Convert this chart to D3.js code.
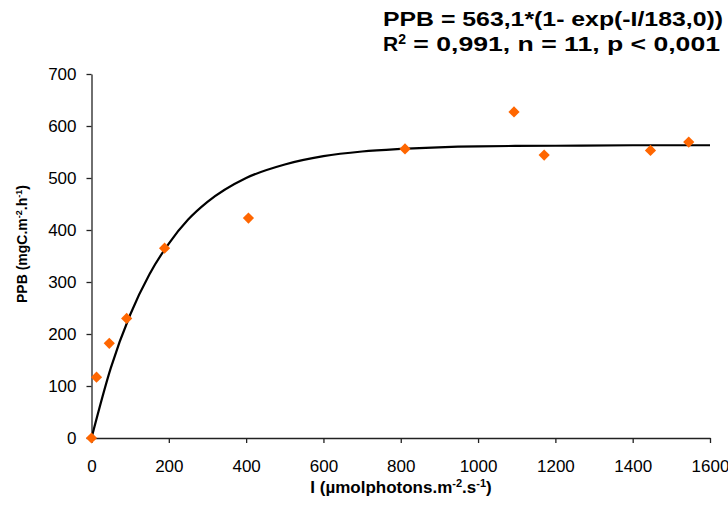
<!DOCTYPE html>
<html>
<head>
<meta charset="utf-8">
<script src="https://cdn.jsdelivr.net/npm/d3@7"></script>
<style>
  body { margin: 0; background: #fff; }
  text { font-family: Arial, 'Liberation Sans', sans-serif; }
</style>
</head>
<body>
<script>
// measured points
var lightI = [0, 13, 46, 91, 189, 406, 811, 1093, 1171, 1446, 1545];
var ppb = [0, 117, 182, 230, 365, 423, 556, 627, 544, 553, 569];

// fitted curve
var curveI = [0, 50, 100, 150, 200, 250, 300, 400, 500, 600, 700, 800, 1000, 1200, 1400, 1600];
var curvePPB = [0, 135, 237, 315, 374, 420, 454, 500, 526, 542, 551, 556, 561, 562, 563, 563];

var xTicks = [0, 200, 400, 600, 800, 1000, 1200, 1400, 1600];
var yTicks = [0, 100, 200, 300, 400, 500, 600, 700];

var width = 728, height = 505;

var svg = d3.select('body').append('svg')
  .attr('width', width)
  .attr('height', height);

var x = d3.scaleLinear().domain([0, 1600]).range([91.5, 710]);
var y = d3.scaleLinear().domain([0, 700]).range([438, 74]);

var xAxis = svg.append('g')
  .attr('transform', 'translate(0,438)')
  .call(d3.axisBottom(x).tickValues(xTicks).tickFormat(d3.format('d'))
    .tickSize(5).tickPadding(17).tickSizeOuter(0));

var yAxis = svg.append('g')
  .attr('transform', 'translate(91.5,0)')
  .call(d3.axisLeft(y).tickValues(yTicks).tickFormat(d3.format('d'))
    .tickSize(5).tickPadding(10).tickSizeOuter(0));

svg.selectAll('.domain, .tick line')
  .attr('stroke', '#222')
  .attr('stroke-width', 1.3);

svg.selectAll('.tick text')
  .style('font-size', '17px')
  .style('font-family', 'Arial, Liberation Sans, sans-serif')
  .attr('fill', '#000');

// curve
var line = d3.line()
  .x(function(d, i) { return x(curveI[i]); })
  .y(function(d) { return y(d); })
  .curve(d3.curveMonotoneX);

svg.append('path')
  .datum(curvePPB)
  .attr('d', line)
  .attr('fill', 'none')
  .attr('stroke', '#000')
  .attr('stroke-width', 2.2);

// diamonds
svg.selectAll('.pt')
  .data(ppb)
  .enter().append('path')
  .attr('class', 'pt')
  .attr('d', d3.symbol().type(d3.symbolDiamond2).size(80))
  .attr('transform', function(d, i) { return 'translate(' + x(lightI[i]) + ',' + y(d) + ')'; })
  .attr('fill', '#FF6600');

// axis titles
var xLabel = svg.append('text')
  .attr('x', 401)
  .attr('y', 493)
  .attr('text-anchor', 'middle')
  .style('font-size', '17px')
  .style('font-weight', 'bold');
xLabel.append('tspan').text('I (µmolphotons.m');
xLabel.append('tspan').attr('dy', -6).style('font-size', '11px').text('-2');
xLabel.append('tspan').attr('dy', 6).text('.s');
xLabel.append('tspan').attr('dy', -6).style('font-size', '11px').text('-1');
xLabel.append('tspan').attr('dy', 6).text(')');

var yLabel = svg.append('text')
  .attr('transform', 'translate(27,244) rotate(-90)')
  .attr('text-anchor', 'middle')
  .style('font-size', '14px')
  .style('font-weight', 'bold');
yLabel.append('tspan').text('PPB (mgC.m');
yLabel.append('tspan').attr('dy', -5).style('font-size', '9px').text('-2');
yLabel.append('tspan').attr('dy', 5).text('.h');
yLabel.append('tspan').attr('dy', -5).style('font-size', '9px').text('-1');
yLabel.append('tspan').attr('dy', 5).text(')');

// equation
svg.append('text')
  .attr('x', 383)
  .attr('y', 26)
  .attr('textLength', 340)
  .attr('lengthAdjust', 'spacingAndGlyphs')
  .style('font-size', '21px')
  .style('font-weight', 'bold')
  .text('PPB = 563,1*(1- exp(-I/183,0))');

var stats = svg.append('text')
  .attr('x', 383)
  .attr('y', 51)
  .style('font-size', '21px')
  .style('font-weight', 'bold');
stats.append('tspan').text('R');
stats.append('tspan').attr('dy', -7).style('font-size', '14px').text('2');
stats.append('tspan').attr('dy', 7).attr('textLength', 314).attr('lengthAdjust', 'spacingAndGlyphs')
  .text(' = 0,991, n = 11, p < 0,001');
</script>
</body>
</html>
